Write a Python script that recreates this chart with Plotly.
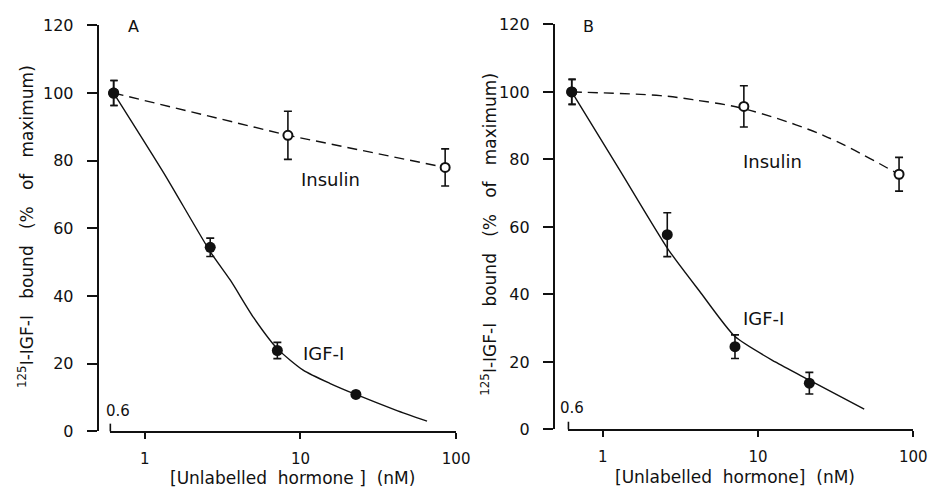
import math
import plotly.graph_objects as go

W, H = 944, 501

# ---------------- data ----------------
# Panel A
a_igf_x = [0.63, 2.63, 7.1, 22.7]
a_igf_y = [100, 54.4, 23.9, 10.9]
a_igf_err = [3.7, 2.7, 2.4, 0.8]
a_igf_curve_x = [0.63, 1.33, 2.64, 3.55, 5.0, 7.14, 10.4, 15.4, 22.7, 40.9, 65]
a_igf_curve_y = [100, 76.2, 53.0, 44.6, 33.6, 24.3, 18.1, 14.2, 10.9, 6.3, 3.0]

a_ins_x = [0.63, 8.3, 85]
a_ins_y = [100, 87.5, 78.0]
a_ins_err = [3.7, 7.1, 5.5]
a_ins_curve_x = [0.63, 8.3, 85]
a_ins_curve_y = [100, 87.5, 78.0]

# Panel B
b_igf_x = [0.63, 2.6, 7.1, 21.4]
b_igf_y = [100, 57.7, 24.5, 13.7]
b_igf_err = [3.7, 6.5, 3.5, 3.2]
b_igf_curve_x = [0.63, 1.29, 2.64, 4.19, 7.1, 12.9, 21.4, 48.3]
b_igf_curve_y = [100, 76.7, 53.3, 41.0, 27.5, 20.0, 14.6, 6.0]

b_ins_x = [0.63, 8.1, 81]
b_ins_y = [100, 95.7, 75.6]
b_ins_err = [3.7, 6.1, 5.0]
b_ins_curve_x = [0.63, 2.34, 3.8, 8.1, 26.7, 81]
b_ins_curve_y = [100, 98.9, 97.7, 95.0, 87.0, 75.5]

x_tickvals = [1, 10, 100]
x_ticktext = ["1", "10", "100"]
y_tickvals = [0, 20, 40, 60, 80, 100, 120]
y_ticktext = ["0", "20", "40", "60", "80", "100", "120"]

FONT = "DejaVu Sans"
INK = "#111111"


def px(x):
    return x / W


def py(y):
    return (H - y) / H


fig = go.Figure()


def add_panel(xa, ya, igf_x, igf_y, igf_err, igf_cx, igf_cy,
              ins_x, ins_y, ins_err, ins_cx, ins_cy, ins_shape):
    fig.add_trace(go.Scatter(x=igf_cx, y=igf_cy, mode="lines",
                             line=dict(color=INK, width=1.4, shape="spline", smoothing=0.6),
                             xaxis=xa, yaxis=ya, hoverinfo="skip"))
    fig.add_trace(go.Scatter(x=ins_cx, y=ins_cy, mode="lines",
                             line=dict(color=INK, width=1.4, dash="10px,6px", shape=ins_shape),
                             xaxis=xa, yaxis=ya, hoverinfo="skip"))
    fig.add_trace(go.Scatter(x=ins_x, y=ins_y, mode="markers",
                             marker=dict(symbol="circle", size=9, color="white",
                                         line=dict(color=INK, width=2)),
                             error_y=dict(type="data", array=ins_err, color=INK,
                                          thickness=1.6, width=4),
                             cliponaxis=False, xaxis=xa, yaxis=ya))
    fig.add_trace(go.Scatter(x=igf_x, y=igf_y, mode="markers",
                             marker=dict(symbol="circle", size=11, color=INK,
                                         line=dict(color=INK, width=0)),
                             error_y=dict(type="data", array=igf_err, color=INK,
                                          thickness=1.6, width=4),
                             cliponaxis=False, xaxis=xa, yaxis=ya))


add_panel("x", "y", a_igf_x, a_igf_y, a_igf_err, a_igf_curve_x, a_igf_curve_y,
          a_ins_x, a_ins_y, a_ins_err, a_ins_curve_x, a_ins_curve_y, "linear")
add_panel("x2", "y2", b_igf_x, b_igf_y, b_igf_err, b_igf_curve_x, b_igf_curve_y,
          b_ins_x, b_ins_y, b_ins_err, b_ins_curve_x, b_ins_curve_y, "spline")

xrange = [math.log10(0.6), 2]

common_x = dict(type="log", range=xrange, showline=True, linecolor=INK, linewidth=1.6,
                ticks="outside", ticklen=6, tickwidth=1.6, tickcolor=INK,
                tickvals=x_tickvals, ticktext=x_ticktext, showgrid=False, zeroline=False,
                tickfont=dict(family=FONT, size=15, color=INK), ticklabelstandoff=7)
common_y = dict(range=[0, 120], showline=True, linecolor=INK, linewidth=1.6,
                ticks="outside", ticklen=10, tickwidth=1.6, tickcolor=INK,
                tickvals=y_tickvals, ticktext=y_ticktext, showgrid=False, zeroline=False,
                tickfont=dict(family=FONT, size=16, color=INK), ticklabelstandoff=10)

# panel geometry (pixels)
A = dict(x0=112, x1=463, yaxis_x=99, ytop=17, ybot=439)
B = dict(x0=577, x1=927, yaxis_x=562, ytop=16, ybot=437)

fig.update_layout(
    width=W, height=H, margin=dict(l=0, r=0, t=0, b=0),
    paper_bgcolor="white", plot_bgcolor="white", showlegend=False,
    xaxis=dict(common_x, domain=[px(A["x0"]), px(A["x1"])], anchor="y"),
    yaxis=dict(common_y, domain=[py(A["ybot"]), py(A["ytop"])], anchor="free",
               position=px(A["yaxis_x"])),
    xaxis2=dict(common_x, domain=[px(B["x0"]), px(B["x1"])], anchor="y2"),
    yaxis2=dict(common_y, domain=[py(B["ybot"]), py(B["ytop"])], anchor="free",
                position=px(B["yaxis_x"])),
)

annos = []
shapes = []
ytitle = "<sup>125</sup>I-IGF-I&nbsp;&nbsp; bound&nbsp;&nbsp; (%&nbsp;&nbsp; of&nbsp;&nbsp; maximum)"


def txt(text, x, y, size, angle=0):
    return dict(text=text, x=px(x), y=py(y), xref="paper", yref="paper",
                xanchor="center", yanchor="middle", showarrow=False, textangle=angle,
                font=dict(family=FONT, size=size, color=INK))


for P, letter, let_pos, ins_pos, igf_pos, ytit_pos, xtit, xtit_pos, six_pos in [
    (A, "A", (136, 18), (335, 177), (328, 358), (27, 226),
     "[Unlabelled&nbsp; hormone ]&nbsp; (nM)", (297, 488), (120, 418)),
    (B, "B", (597, 18), (784, 159), (775, 322), (496, 234),
     "[Unlabelled&nbsp; hormone]&nbsp; (nM)", (746, 486), (581, 415)),
]:
    annos.append(txt(letter, *let_pos, 16))
    annos.append(txt("Insulin", *ins_pos, 18))
    annos.append(txt("IGF-I", *igf_pos, 18))
    annos.append(txt(ytitle, *ytit_pos, 17, angle=-90))
    annos.append(txt(xtit, *xtit_pos, 17))
    annos.append(txt("0.6", *six_pos, 15))
    # axis-break mark at the start of the x axis
    shapes.append(dict(type="line", xref="paper", yref="paper",
                       x0=px(P["x0"]), x1=px(P["x0"]),
                       y0=py(P["ybot"]), y1=py(P["ybot"] - 8),
                       line=dict(color=INK, width=1.6)))

fig.update_layout(annotations=annos, shapes=shapes)
fig.write_html("out.html")
